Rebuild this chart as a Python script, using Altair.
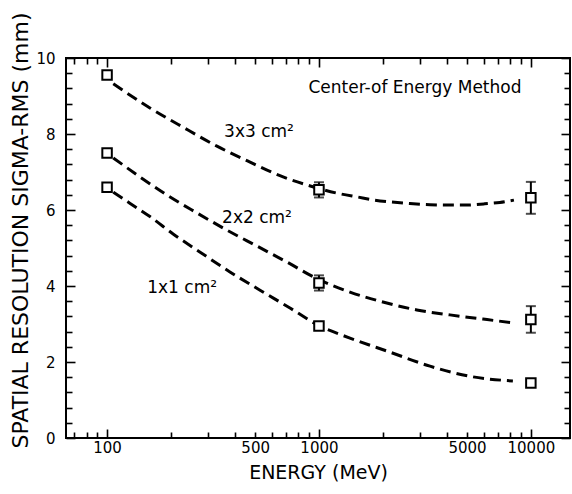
import altair as alt
import pandas as pd

# ---------------- data ----------------
series_names = ["3x3 cm²", "2x2 cm²", "1x1 cm²"]
energy = [100, 1000, 10000]
sigma_3x3 = [9.55, 6.53, 6.32]
err_3x3 = [0.0, 0.2, 0.42]
sigma_2x2 = [7.5, 4.08, 3.12]
err_2x2 = [0.0, 0.2, 0.35]
sigma_1x1 = [6.6, 2.95, 1.45]
err_1x1 = [0.0, 0.0, 0.0]

# dashed fitted curves
curve_e_3x3 = [107, 160, 228, 330, 473, 677, 878, 1203, 1528, 1837, 2209, 2685, 3342, 4058, 4883, 5998, 7145, 8318]
curve_s_3x3 = [9.32, 8.68, 8.18, 7.68, 7.26, 6.87, 6.66, 6.45, 6.34, 6.26, 6.21, 6.17, 6.14, 6.13, 6.13, 6.16, 6.20, 6.26]
curve_e_2x2 = [107, 143, 192, 266, 368, 510, 706, 989, 1400, 2004, 2897, 4150, 5940, 8225]
curve_s_2x2 = [7.37, 6.87, 6.39, 5.92, 5.47, 5.05, 4.63, 4.18, 3.84, 3.58, 3.37, 3.24, 3.13, 3.03]
curve_e_1x1 = [107, 128, 160, 205, 275, 380, 527, 730, 989, 1400, 2163, 3342, 5325, 8225]
curve_s_1x1 = [6.47, 6.18, 5.82, 5.37, 4.89, 4.37, 3.89, 3.42, 2.97, 2.63, 2.26, 1.89, 1.61, 1.50]

label_text = ["3x3 cm²", "2x2 cm²", "1x1 cm²"]
label_e = [521, 510, 226]
label_s = [8.05, 5.79, 3.95]
method_text = ["Center-of Energy Method"]
method_e = [2838]
method_s = [9.21]

x_label_values = [100, 500, 1000, 5000, 10000]
x_major_ticks = [100, 1000, 10000]
x_minor_ticks = [70, 80, 90, 200, 300, 400, 500, 600, 700, 800, 900,
                 2000, 3000, 4000, 5000, 6000, 7000, 8000, 9000]
y_label_values = [0, 2, 4, 6, 8, 10]
y_minor_ticks = [0.4, 0.8, 1.2, 1.6, 2.4, 2.8, 3.2, 3.6, 4.4, 4.8, 5.2, 5.6,
                 6.4, 6.8, 7.2, 7.6, 8.4, 8.8, 9.2, 9.6]

# ---------------- tables ----------------
pts = pd.DataFrame({
    "E": energy * 3,
    "S": sigma_3x3 + sigma_2x2 + sigma_1x1,
    "err": err_3x3 + err_2x2 + err_1x1,
    "series": [series_names[0]] * 3 + [series_names[1]] * 3 + [series_names[2]] * 3,
})
pts["lo"] = pts["S"] - pts["err"]
pts["hi"] = pts["S"] + pts["err"]
errs = pts[pts["err"] > 0]

curves = pd.DataFrame({
    "E": curve_e_3x3 + curve_e_2x2 + curve_e_1x1,
    "S": curve_s_3x3 + curve_s_2x2 + curve_s_1x1,
    "series": [series_names[0]] * len(curve_e_3x3) + [series_names[1]] * len(curve_e_2x2)
              + [series_names[2]] * len(curve_e_1x1),
})
curves["order"] = range(len(curves))

labels = pd.DataFrame({"E": label_e + method_e, "S": label_s + method_s,
                       "text": label_text + method_text})

FONT = "DejaVu Sans"
xscale = alt.Scale(type="log", domain=[64, 15300], nice=False)
yscale = alt.Scale(domain=[0, 10], nice=False, zero=False)

x_label_axis = alt.Axis(values=x_label_values, format="d", ticks=False, tickSize=0, domain=False,
                        grid=False, labelFontSize=15, labelPadding=14, labelBaseline="alphabetic",
                        labelColor="black", labelFont=FONT, title="ENERGY (MeV)",
                        titleFont=FONT, titleFontSize=19, titleFontWeight="normal",
                        titleColor="black", titleY=40, titleBaseline="alphabetic")
y_label_axis = alt.Axis(values=y_label_values, format="d", ticks=False, tickSize=0, domain=False,
                        grid=False, labelFontSize=15, labelPadding=11, labelColor="black",
                        labelFont=FONT, title="SPATIAL  RESOLUTION  SIGMA-RMS (mm)",
                        titleFont=FONT, titleFontSize=22, titleFontWeight="normal",
                        titleColor="black", titleX=-39, titleY=172, titleAngle=-90,
                        titleAlign="center", titleBaseline="alphabetic")

curve_layer = alt.Chart(curves).mark_line(
    color="black", strokeWidth=3, strokeDash=[11, 6], interpolate="monotone"
).encode(
    x=alt.X("E:Q", scale=xscale, axis=x_label_axis),
    y=alt.Y("S:Q", scale=yscale, axis=y_label_axis),
    detail="series:N",
    order="order:Q",
)

err_rule = alt.Chart(errs).mark_rule(color="black", strokeWidth=2).encode(
    x=alt.X("E:Q", scale=xscale, axis=None),
    y=alt.Y("lo:Q", scale=yscale, axis=None),
    y2="hi:Q",
)
err_cap_hi = alt.Chart(errs).mark_tick(color="black", orient="horizontal", size=10, thickness=2).encode(
    x=alt.X("E:Q", scale=xscale, axis=None),
    y=alt.Y("hi:Q", scale=yscale, axis=None),
)
err_cap_lo = alt.Chart(errs).mark_tick(color="black", orient="horizontal", size=10, thickness=2).encode(
    x=alt.X("E:Q", scale=xscale, axis=None),
    y=alt.Y("lo:Q", scale=yscale, axis=None),
)

markers = alt.Chart(pts).mark_point(
    shape="square", size=90, filled=True, fill="white", fillOpacity=1,
    stroke="black", strokeWidth=2, opacity=1
).encode(
    x=alt.X("E:Q", scale=xscale, axis=None),
    y=alt.Y("S:Q", scale=yscale, axis=None),
)

texts = alt.Chart(labels).mark_text(font=FONT, fontSize=17, color="black", align="center",
                                    baseline="middle").encode(
    x=alt.X("E:Q", scale=xscale, axis=None),
    y=alt.Y("S:Q", scale=yscale, axis=None),
    text="text:N",
)


def tick_axis(orient, values, size):
    return alt.Axis(orient=orient, values=values, labels=False, domain=False, grid=False,
                    ticks=True, tickSize=size, offset=-size, tickColor="black",
                    tickWidth=1.6, title=None)


def tick_layer(xo, xv, xs, yo, yv, ys):
    return alt.Chart(pts).mark_point(opacity=0).encode(
        x=alt.X("E:Q", scale=xscale, axis=tick_axis(xo, xv, xs)),
        y=alt.Y("S:Q", scale=yscale, axis=tick_axis(yo, yv, ys)),
    )


t1 = tick_layer("bottom", x_major_ticks, 9, "left", y_label_values, 9)
t2 = tick_layer("bottom", x_minor_ticks, 6, "left", y_minor_ticks, 6)
t3 = tick_layer("top", x_major_ticks, 9, "right", y_label_values, 9)
t4 = tick_layer("top", x_minor_ticks, 6, "right", y_minor_ticks, 6)

chart = alt.layer(
    curve_layer, err_rule, err_cap_hi, err_cap_lo, markers, texts, t1, t2, t3, t4
).resolve_axis(
    x="independent", y="independent"
).properties(
    width=504, height=380,
    autosize=alt.AutoSizeParams(type="none"),
    padding={"left": 66, "top": 58, "right": 2, "bottom": 56},
    background="white",
).configure_view(
    stroke="black", strokeWidth=2
)

chart.save("out.html", embed_options={"renderer": "svg", "actions": False})
